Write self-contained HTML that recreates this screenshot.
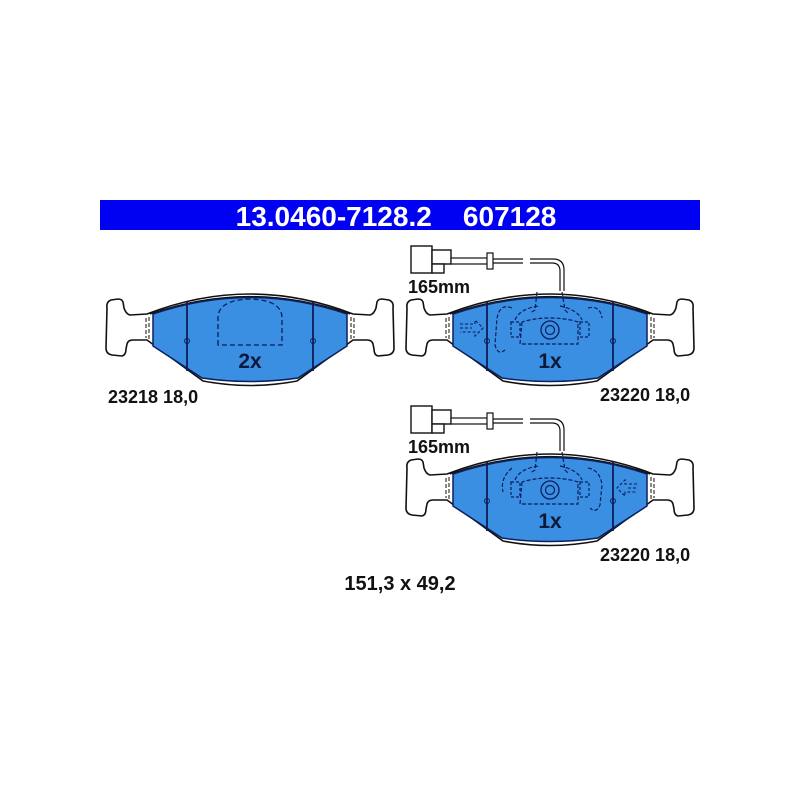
<!DOCTYPE html>
<html><head><style>
html,body{margin:0;padding:0;background:#fff;}
svg{display:block}
text{font-family:"Liberation Sans",Arial,sans-serif;font-weight:bold;}
</style></head><body>
<svg width="800" height="800" viewBox="0 0 800 800" xmlns="http://www.w3.org/2000/svg">
<rect x="0" y="0" width="800" height="800" fill="#fff"/>
<rect x="100" y="200" width="600" height="30" fill="#0000f2"/>
<text x="396" y="226" font-size="28" fill="#fff" text-anchor="middle" xml:space="preserve">13.0460-7128.2    607128</text>

<defs>
<g id="pad">
  <path d="M147,314 L130,315 Q126,314 124,308 L123,302 Q122,299 118,299 L111,300 Q106,302 107,308 L106,348 Q106,354 112,355 L122,356 Q126,355 126,349 L127,344 Q128,340 133,340 L147,340 L203,381 Q250,390 297,381 L353,340 L367,340 Q372,340 373,344 L374,349 Q374,355 378,356 L388,355 Q394,354 394,348 L393,308 Q394,302 389,300 L382,299 Q378,299 377,302 L376,308 Q374,314 370,315 L353,314 Q250,274 147,314 Z" fill="#fff" stroke="#111" stroke-width="1.6"/>
  <path d="M150,314 Q250,279 350,314" fill="none" stroke="#111" stroke-width="1.2"/>
  <path d="M153,314 Q250,281 347,314 L347,346 L298,378 Q250,385 202,378 L153,346 Z" fill="#3a8fe3" stroke="#0b1f5a" stroke-width="1.5"/>
  <path d="M146,318 L146,338 M149,317 L149,341 M351,317 L351,341 M354,318 L354,338" stroke="#111" stroke-width="1" stroke-dasharray="4,2"/>
  <line x1="187" y1="302" x2="187" y2="371" stroke="#0b1f5a" stroke-width="1.8"/>
  <line x1="313" y1="302" x2="313" y2="371" stroke="#0b1f5a" stroke-width="1.8"/>
  <circle cx="187" cy="341" r="2.5" fill="none" stroke="#0b1f5a" stroke-width="1"/>
  <circle cx="313" cy="341" r="2.5" fill="none" stroke="#0b1f5a" stroke-width="1"/>
</g>
<g id="sensor">
  <rect x="411" y="246" width="21" height="27" fill="#fff" stroke="#111" stroke-width="1.4"/>
  <rect x="432" y="250" width="19" height="14" fill="#fff" stroke="#111" stroke-width="1.4"/>
  <rect x="432" y="264" width="12" height="9" fill="#fff" stroke="#111" stroke-width="1.4"/>
  <rect x="451" y="258" width="38" height="6" fill="#fff" stroke="#111" stroke-width="1.2"/>
  <rect x="487" y="253" width="6" height="16" fill="#fff" stroke="#111" stroke-width="1.2"/>
  <path d="M493,259 L523,259 M493,263 L523,263" stroke="#111" stroke-width="1.2"/>
  <path d="M530,259 L553,259 Q564,259 564,270 L564,291 M530,263 L552,263 Q560,263 560,271 L560,291" fill="none" stroke="#111" stroke-width="1.2"/>
  <text x="408" y="293" font-size="18" fill="#111">165mm</text>
</g>
<g id="clip">
  <path d="M537,292 L535,310 L530,313 M562,292 L565,310 L568,313" fill="none" stroke="#0b1f5a" stroke-width="1.2" stroke-dasharray="4,2"/>
  <path d="M515,320 Q520,308 540,306 M560,306 Q578,310 582,320" fill="none" stroke="#0b1f5a" stroke-width="1.2" stroke-dasharray="4,2"/>
  <path d="M522,322 L520,344 L578,344 L578,322 Q565,318 550,318 Q535,318 522,322" fill="none" stroke="#0b1f5a" stroke-width="1.2" stroke-dasharray="4,2"/>
  <rect x="511" y="322" width="9" height="15" fill="none" stroke="#0b1f5a" stroke-width="1.2" stroke-dasharray="3,2"/>
  <rect x="580" y="322" width="9" height="15" fill="none" stroke="#0b1f5a" stroke-width="1.2" stroke-dasharray="3,2"/>
  <circle cx="550" cy="330" r="9" fill="none" stroke="#0b1f5a" stroke-width="1.3"/>
  <circle cx="550" cy="330" r="4.5" fill="none" stroke="#0b1f5a" stroke-width="1.2"/>
</g>
</defs>

<use href="#pad"/>
<path d="M218,345 L218,318 Q218,300 250,299 Q282,300 282,318 L282,345 Z" fill="none" stroke="#0b1f5a" stroke-width="1.3" stroke-dasharray="5,3"/>
<text x="250" y="368" font-size="21" fill="#0b1a3a" text-anchor="middle">2x</text>
<text x="108" y="403" font-size="18" fill="#111">23218 18,0</text>

<use href="#pad" transform="translate(300,0)"/>
<use href="#sensor"/>
<use href="#clip"/>
<path d="M512,308 Q500,303 497,318 L495,345 Q498,356 505,350 M588,308 Q600,305 602,318" fill="none" stroke="#0b1f5a" stroke-width="1.2" stroke-dasharray="4,2"/>
<path d="M460,324 L475,324 L475,320 L483,328 L475,336 L475,332 L460,332 M460,328 L472,328" fill="none" stroke="#0b1f5a" stroke-width="1.1" stroke-dasharray="3,2"/>
<text x="550" y="368" font-size="21" fill="#0b1a3a" text-anchor="middle">1x</text>
<text x="600" y="401" font-size="18" fill="#111">23220 18,0</text>

<use href="#pad" transform="translate(300,160)"/>
<use href="#sensor" transform="translate(0,160)"/>
<use href="#clip" transform="translate(0,160)"/>
<path d="M512,468 Q500,478 503,492 M588,468 Q600,470 602,485 L600,505 Q596,514 590,508" fill="none" stroke="#0b1f5a" stroke-width="1.2" stroke-dasharray="4,2"/>
<path d="M637,484 L625,484 L625,480 L617,488 L625,496 L625,492 L637,492 M628,488 L637,488" fill="none" stroke="#0b1f5a" stroke-width="1.1" stroke-dasharray="3,2"/>
<text x="550" y="528" font-size="21" fill="#0b1a3a" text-anchor="middle">1x</text>
<text x="600" y="561" font-size="18" fill="#111">23220 18,0</text>

<text x="400" y="590" font-size="20" fill="#111" text-anchor="middle">151,3 x 49,2</text>
</svg>
</body></html>
